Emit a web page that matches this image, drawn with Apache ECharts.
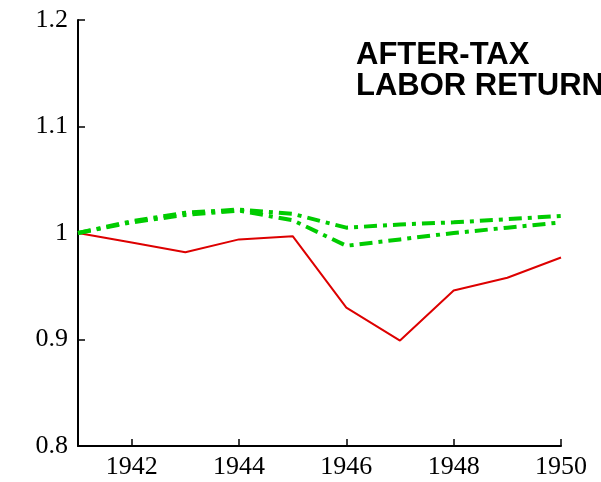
<!DOCTYPE html>
<html><head><meta charset="utf-8">
<script src="https://cdn.jsdelivr.net/npm/echarts@6/dist/echarts.min.js"></script>
<style>html,body{margin:0;padding:0;background:#fff}#c{width:601px;height:482px}</style>
</head><body><div id="c"></div>
<script>
const years = [1941,1942,1943,1944,1945,1946,1947,1948,1949,1950];
const redSeries = [1.000,0.991,0.982,0.994,0.997,0.930,0.899,0.946,0.958,0.977];
const greenUpper = [1.000,1.011,1.019,1.022,1.018,1.005,1.008,1.010,1.013,1.016];
const greenLower = [1.000,1.010,1.017,1.021,1.012,0.988,0.994,1.000,1.005,1.010];
const xTicks = [1942,1944,1946,1948,1950];
const yTicks = [0.8,0.9,1.0,1.1,1.2];
const titleText = 'AFTER-TAX\nLABOR RETURN';

const pair = arr => years.map((y,i)=>[y,arr[i]]);
const chart = echarts.init(document.getElementById('c'), null, {renderer:'canvas'});
const axisFont = {fontFamily:'Liberation Serif', fontSize:26, color:'#000'};
chart.setOption({
  animation:false,
  grid:{left:78, right:40, top:20, bottom:36},
  title:{text:titleText, left:356, top:40, padding:0, textStyle:{fontFamily:'Liberation Sans', fontWeight:'bold', fontSize:31, color:'#000', lineHeight:31}},
  xAxis:{type:'value', min:1941, max:1950,
    axisLine:{lineStyle:{color:'#000', width:2}},
    axisTick:{inside:true, length:7, customValues:xTicks, lineStyle:{color:'#000', width:1.5}},
    axisLabel:{customValues:xTicks, margin:8, formatter:v=>String(v), ...axisFont},
    splitLine:{show:false}},
  yAxis:{type:'value', min:0.8, max:1.2,
    axisLine:{show:true, lineStyle:{color:'#000', width:2}},
    axisTick:{show:true, inside:true, length:7, customValues:yTicks, lineStyle:{color:'#000', width:1.5}},
    axisLabel:{customValues:yTicks, margin:10, formatter:v=>(Math.abs(v-1)<1e-9?'1':String(+v.toFixed(1))), ...axisFont},
    splitLine:{show:false}},
  series:[
    {type:'line', data:pair(redSeries), symbol:'none', lineStyle:{color:'#dd0000', width:2}},
    {type:'line', data:pair(greenUpper), symbol:'none', lineStyle:{color:'#00cc00', width:4, type:[13,6,4,6]}},
    {type:'line', data:pair(greenLower), symbol:'none', lineStyle:{color:'#00cc00', width:4, type:[13,6,4,6]}}
  ]
});
</script></body></html>
